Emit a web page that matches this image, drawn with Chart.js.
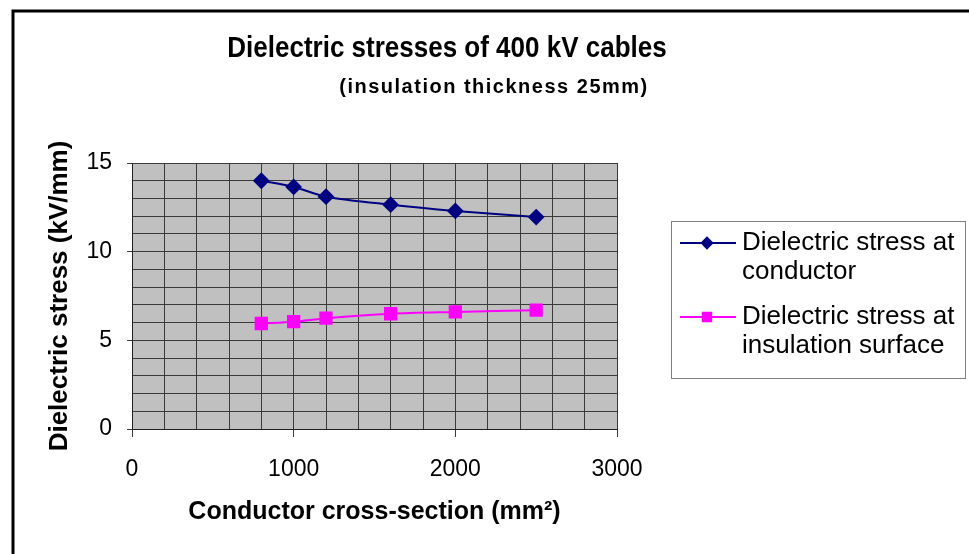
<!DOCTYPE html>
<html>
<head>
<meta charset="utf-8">
<script src="https://cdn.jsdelivr.net/npm/chart.js@4.4.1/dist/chart.umd.min.js"></script>
<style>
  html, body { margin: 0; padding: 0; background: #fff; }
  #wrap { width: 969px; height: 554px; position: relative; }
</style>
</head>
<body>
<div id="wrap"><canvas id="stress_chart"></canvas></div>
<script>
var chartTitle = "Dielectric stresses of 400 kV cables";
var chartSubtitle = "(insulation thickness 25mm)";
var xTitle = "Conductor cross-section (mm²)";
var yTitle = "Dielectric stress (kV/mm)";

var crossSections = [800, 1000, 1200, 1600, 2000, 2500];
var stressConductor = [14.0, 13.65, 13.1, 12.65, 12.3, 11.95];
var stressSurface = [5.95, 6.05, 6.25, 6.5, 6.6, 6.7];
var seriesNames = ["Dielectric stress at conductor", "Dielectric stress at insulation surface"];

var FONT = "'Liberation Sans', Arial, sans-serif";

function toPoints(xs, ys) {
    var pts = [];
    xs.forEach(function(x, i) { pts.push({ x: x, y: ys[i] }); });
    return pts;
}

// text a bit taller than wide, like the original picture
function tallText(ctx, text, x, y, sy) {
    ctx.save();
    ctx.translate(x, y);
    ctx.scale(1, sy);
    ctx.fillText(text, 0, 0);
    ctx.restore();
}

// frame, titles and the boxed legend on the right
var decorations = {
    id: 'decorations',
    beforeDraw: function(chart) {
        var ctx = chart.ctx;
        ctx.save();
        ctx.strokeStyle = '#000';
        ctx.lineWidth = 3;
        ctx.beginPath();
        ctx.moveTo(13, 560);
        ctx.lineTo(13, 11);
        ctx.lineTo(975, 11);
        ctx.stroke();
        ctx.restore();
    },
    afterDraw: function(chart) {
        var ctx = chart.ctx;
        ctx.save();
        ctx.fillStyle = '#000';
        ctx.textAlign = 'center';
        ctx.textBaseline = 'middle';
        ctx.font = "bold 26px " + FONT;
        tallText(ctx, chartTitle, 447, 49, 1.15);
        ctx.font = "bold 20px " + FONT;
        ctx.letterSpacing = '1.5px';
        tallText(ctx, chartSubtitle, 494, 87, 1.05);
        ctx.letterSpacing = '0px';

        // legend
        var bx = 671, by = 221, bw = 294, bh = 157;
        ctx.fillStyle = '#fff';
        ctx.fillRect(bx, by, bw, bh);
        ctx.strokeStyle = '#808080';
        ctx.lineWidth = 1;
        ctx.strokeRect(bx + 0.5, by + 0.5, bw, bh);

        ctx.font = "26px " + FONT;
        ctx.textAlign = 'left';
        var rowY = [243, 317];
        chart.data.datasets.forEach(function(ds, i) {
            var y = rowY[i];
            ctx.strokeStyle = ds.borderColor;
            ctx.lineWidth = 2;
            ctx.beginPath();
            ctx.moveTo(680, y);
            ctx.lineTo(736, y);
            ctx.stroke();
            Chart.helpers.drawPoint(ctx, {
                pointStyle: ds.pointStyle,
                radius: ds.pointRadius * 0.75,
                borderWidth: 1
            }, 707, y);
            ctx.fillStyle = ds.pointBackgroundColor;
            ctx.fill();
            // wrap the label
            var words = ds.label.split(' ');
            var lines = [];
            var cur = '';
            words.forEach(function(w) {
                var test = cur ? cur + ' ' + w : w;
                if (ctx.measureText(test).width > 220 && cur) {
                    lines.push(cur);
                    cur = w;
                } else {
                    cur = test;
                }
            });
            lines.push(cur);
            ctx.fillStyle = '#000';
            lines.forEach(function(l, k) {
                ctx.fillText(l, 742, y + k * 29);
            });
        });
        ctx.restore();
    }
};

var plotBg = {
    id: 'plotBg',
    beforeDraw: function(chart) {
        var a = chart.chartArea;
        var ctx = chart.ctx;
        ctx.save();
        ctx.fillStyle = '#c0c0c0';
        ctx.fillRect(a.left, a.top, a.right - a.left, a.bottom - a.top);
        ctx.restore();
    }
};

var ctx = document.getElementById('stress_chart');
var chart = new Chart(ctx, {
    type: 'line',
    data: {
        datasets: [
            {
                label: seriesNames[0],
                data: toPoints(crossSections, stressConductor),
                borderColor: '#000080',
                backgroundColor: '#000080',
                pointBackgroundColor: '#000080',
                pointBorderColor: '#000080',
                pointStyle: 'rectRot',
                pointRadius: 7,
                borderWidth: 2,
                tension: 0.3
            },
            {
                label: seriesNames[1],
                data: toPoints(crossSections, stressSurface),
                borderColor: '#ff00ff',
                backgroundColor: '#ff00ff',
                pointBackgroundColor: '#ff00ff',
                pointBorderColor: '#ff00ff',
                pointStyle: 'rect',
                pointRadius: 8,
                borderWidth: 2,
                tension: 0.3
            }
        ]
    },
    options: {
        responsive: true,
        maintainAspectRatio: false,
        animation: false,
        layout: { padding: { left: 44, top: 163, right: 352, bottom: 20 } },
        plugins: {
            legend: { display: false },
            tooltip: { enabled: false }
        },
        scales: {
            x: {
                type: 'linear',
                min: 0,
                max: 3000,
                afterFit: function(s) { s.height = 105; },
                border: { color: '#222', width: 1 },
                grid: {
                    color: '#3a3a3a',
                    tickLength: 8,
                    tickColor: function(c) { return c.tick.value % 1000 === 0 ? '#3a3a3a' : 'rgba(0,0,0,0)'; }
                },
                ticks: {
                    stepSize: 200,
                    maxRotation: 0,
                    autoSkip: false,
                    padding: 19,
                    color: '#000',
                    font: { family: FONT, size: 23 },
                    callback: function(v) { return v % 1000 === 0 ? v : ''; }
                },
                title: {
                    display: true,
                    text: xTitle,
                    color: '#000',
                    font: { family: FONT, size: 25, weight: 'bold' },
                    padding: { top: 0, bottom: 7 }
                }
            },
            y: {
                min: 0,
                max: 15,
                afterFit: function(s) { s.width = 88; },
                border: { color: '#222', width: 1 },
                grid: {
                    color: '#3a3a3a',
                    tickLength: 5,
                    tickColor: function(c) { return c.tick.value % 5 === 0 ? '#3a3a3a' : 'rgba(0,0,0,0)'; }
                },
                ticks: {
                    stepSize: 1,
                    autoSkip: false,
                    padding: 15,
                    color: '#000',
                    font: { family: FONT, size: 23 },
                    callback: function(v) { return v % 5 === 0 ? v : ''; }
                },
                title: {
                    display: true,
                    text: yTitle,
                    color: '#000',
                    font: { family: FONT, size: 26, weight: 'bold' },
                    padding: { top: 0, bottom: 0 }
                }
            }
        }
    },
    plugins: [plotBg, decorations]
});
</script>
</body>
</html>
